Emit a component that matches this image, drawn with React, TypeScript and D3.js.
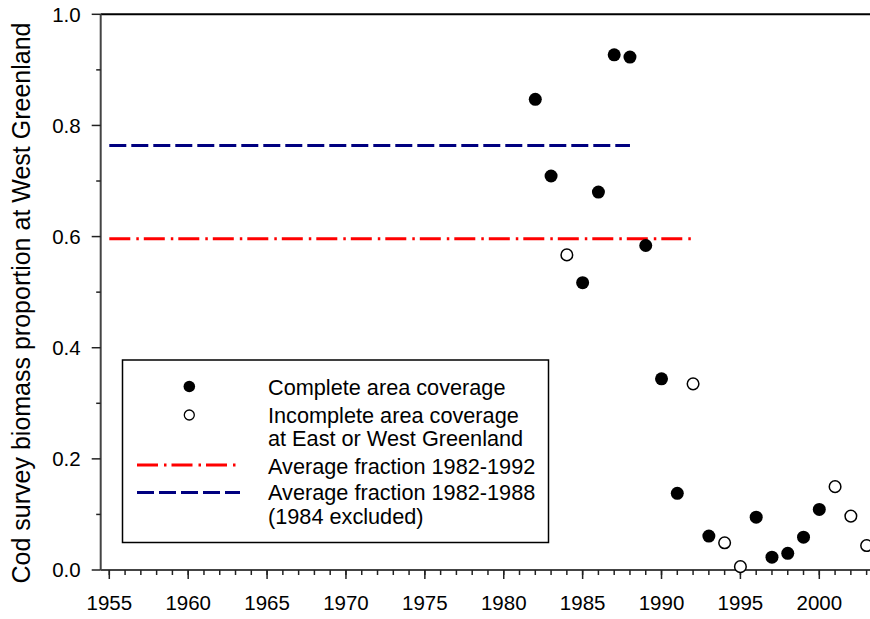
import React from "react";
import * as d3 from "d3";

// Survey years with full area coverage and their West Greenland biomass proportion
const completeYears = [1982, 1983, 1985, 1986, 1987, 1988, 1989, 1990, 1991, 1993, 1996, 1997, 1998, 1999, 2000];
const completeValues = [0.847, 0.709, 0.517, 0.68, 0.927, 0.923, 0.584, 0.344, 0.138, 0.061, 0.095, 0.023, 0.03, 0.059, 0.109];

// Survey years with incomplete coverage at East or West Greenland
const incompleteYears = [1984, 1992, 1994, 1995, 2001, 2002, 2003];
const incompleteValues = [0.567, 0.335, 0.049, 0.006, 0.15, 0.097, 0.044];

// Average fractions drawn as horizontal reference lines
const avg1992 = { from: 1955, to: 1992, value: 0.596 };
const avg1988 = { from: 1955, to: 1988, value: 0.764 };

const xMajorTicks = [1955, 1960, 1965, 1970, 1975, 1980, 1985, 1990, 1995, 2000];
const xMinorTicks = d3.range(1955, 2004, 1);
const yMajorTicks = [0, 0.2, 0.4, 0.6, 0.8, 1.0];
const yMinorTicks = [0.1, 0.3, 0.5, 0.7, 0.9];

const legendItems = [
  "Complete area coverage",
  "Incomplete area coverage",
  "at East or West Greenland",
  "Average fraction 1982-1992",
  "Average fraction 1982-1988",
  "(1984 excluded)",
];

const W = 870;
const H = 619;
const FONT = "'Liberation Sans', Arial, Helvetica, sans-serif";

export default function App() {
  const x = d3.scaleLinear().domain([1955, 2000]).range([109.3, 819.3]);
  const y = d3.scaleLinear().domain([0, 1]).range([570, 14.3]);
  const axisLeft = 100.7;
  const axisBottom = y(0);

  const hLine = (v: { from: number; to: number; value: number }) =>
    d3.line<[number, number]>()
      .x((d) => x(d[0]))
      .y((d) => y(d[1]))([
        [v.from, v.value],
        [v.to, v.value],
      ]) as string;

  const legendTextY = [387, 415, 438, 466, 492, 516];

  return (
    <svg
      width={W}
      height={H}
      style={{ position: "absolute", left: 0, top: 0, background: "#fff" }}
      fontFamily={FONT}
    >
      {/* frame top */}
      <line x1={axisLeft} x2={W} y1={y(1)} y2={y(1)} stroke="#000" strokeWidth={2} />

      {/* average lines */}
      <path d={hLine(avg1988)} stroke="#000080" strokeWidth={3} strokeDasharray="17 5" fill="none" />
      <path d={hLine(avg1992)} stroke="#ff0000" strokeWidth={3} strokeDasharray="21 6 2.5 5" fill="none" />

      {/* y axis */}
      <line x1={axisLeft} x2={axisLeft} y1={y(1)} y2={axisBottom} stroke="#444" strokeWidth={2} />
      {yMajorTicks.map((t) => (
        <g key={"ym" + t}>
          <line x1={axisLeft - 9} x2={axisLeft} y1={y(t)} y2={y(t)} stroke="#222" strokeWidth={1.5} />
          <text x={80.7} y={y(t)} dy="0.36em" textAnchor="end" fontSize={20.5} fill="#000">
            {t.toFixed(1)}
          </text>
        </g>
      ))}
      {yMinorTicks.map((t) => (
        <line key={"yn" + t} x1={axisLeft - 4.5} x2={axisLeft} y1={y(t)} y2={y(t)} stroke="#222" strokeWidth={1.5} />
      ))}

      {/* x axis */}
      <line x1={axisLeft} x2={W} y1={axisBottom} y2={axisBottom} stroke="#444" strokeWidth={2} />
      {xMinorTicks.map((t) => (
        <line key={"xn" + t} x1={x(t)} x2={x(t)} y1={axisBottom} y2={axisBottom + 5} stroke="#222" strokeWidth={1.5} />
      ))}
      {xMajorTicks.map((t) => (
        <g key={"xm" + t}>
          <line x1={x(t)} x2={x(t)} y1={axisBottom} y2={axisBottom + 9} stroke="#222" strokeWidth={1.5} />
          <text x={x(t)} y={610} textAnchor="middle" fontSize={20.5} fill="#000">
            {t}
          </text>
        </g>
      ))}

      {/* y axis title */}
      <text
        transform={`translate(30, 303) rotate(-90)`}
        textAnchor="middle"
        fontSize={25}
        fill="#000"
      >
        Cod survey biomass proportion at West Greenland
      </text>

      {/* data points */}
      {completeYears.map((yr, i) => (
        <circle key={"c" + yr} cx={x(yr)} cy={y(completeValues[i])} r={6.5} fill="#000" />
      ))}
      {incompleteYears.map((yr, i) => (
        <circle key={"o" + yr} cx={x(yr)} cy={y(incompleteValues[i])} r={5.8} fill="#fff" stroke="#000" strokeWidth={1.5} />
      ))}

      {/* legend */}
      <rect x={122.5} y={360} width={426} height={182.5} fill="#fff" stroke="#000" strokeWidth={1.5} />
      <circle cx={189.3} cy={386.5} r={5.8} fill="#000" />
      <circle cx={189.3} cy={415} r={5} fill="#fff" stroke="#000" strokeWidth={1.3} />
      <line x1={137} x2={237} y1={465} y2={465} stroke="#ff0000" strokeWidth={3} strokeDasharray="21 6 2.5 5" />
      <line x1={137} x2={240} y1={492.5} y2={492.5} stroke="#000080" strokeWidth={3} strokeDasharray="17 5" />
      {legendItems.map((s, i) => (
        <text key={s} x={268} y={legendTextY[i]} dy="0.36em" fontSize={21.7} fill="#000">
          {s}
        </text>
      ))}
    </svg>
  );
}
